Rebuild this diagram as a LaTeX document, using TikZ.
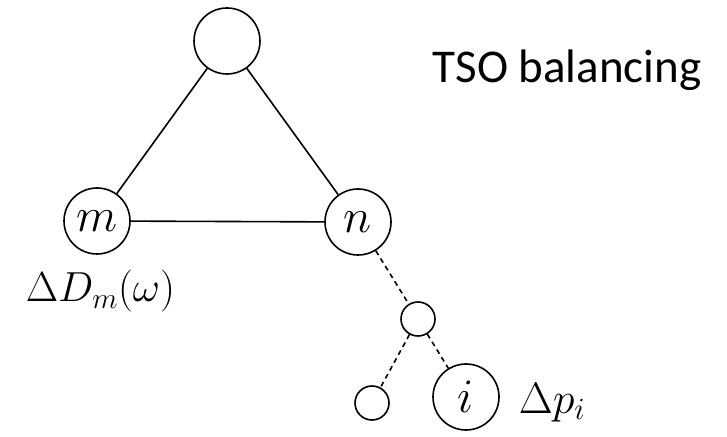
\RequirePackage{fix-cm}
\documentclass[tikz,border=0pt]{standalone}
\usepackage{amsmath,amssymb}
\usepackage{fontspec}
\newfontfamily\labelfont{Carlito}
\usetikzlibrary{positioning, calc}

\begin{document}
\begin{tikzpicture}[x=1pt, y=1pt, line width=1.6pt,
    bus/.style={circle, draw, minimum size=66pt, inner sep=0pt,
                font=\fontsize{48}{50}\selectfont},
    tiny/.style={circle, draw, minimum size=34pt, inner sep=0pt},
    lbl/.style={font=\fontsize{42}{46}\selectfont, inner sep=0pt, anchor=base west},
    feeder/.style={dash pattern=on 5pt off 4pt}]

    \useasboundingbox (0,0) rectangle (727,436);

    % meshed part
    \node[bus] (top) at (227,395) {};
    \node[bus] (m) at (97,215) {$m$};
    \node[bus] (n) at (358,214) {$n$};

    % radial feeder below n
    \node[tiny] (relay) at (418,117) {};
    \node[tiny] (leaf) at (372,33) {};
    \node[bus] (i) at (466,39) {$i$};

    \node[lbl] (dm) at (25,134) {$\Delta D_m(\omega)$};
    \node[lbl, font=\fontsize{44}{48}\selectfont] (dp) at (518,23) {$\Delta p_i$};
    \node[anchor=base west, inner sep=0pt, font=\labelfont\fontsize{47}{50}\selectfont]
        (tso) at (432,353) {TSO balancing};

    \draw (top) -- (m);
    \draw (top) -- (n);
    \draw (m) -- (n);
    \draw[feeder] (n) -- (relay);
    \draw[feeder] (relay) -- (leaf);
    \draw[feeder] (relay) -- (i);
\end{tikzpicture}
\end{document}
